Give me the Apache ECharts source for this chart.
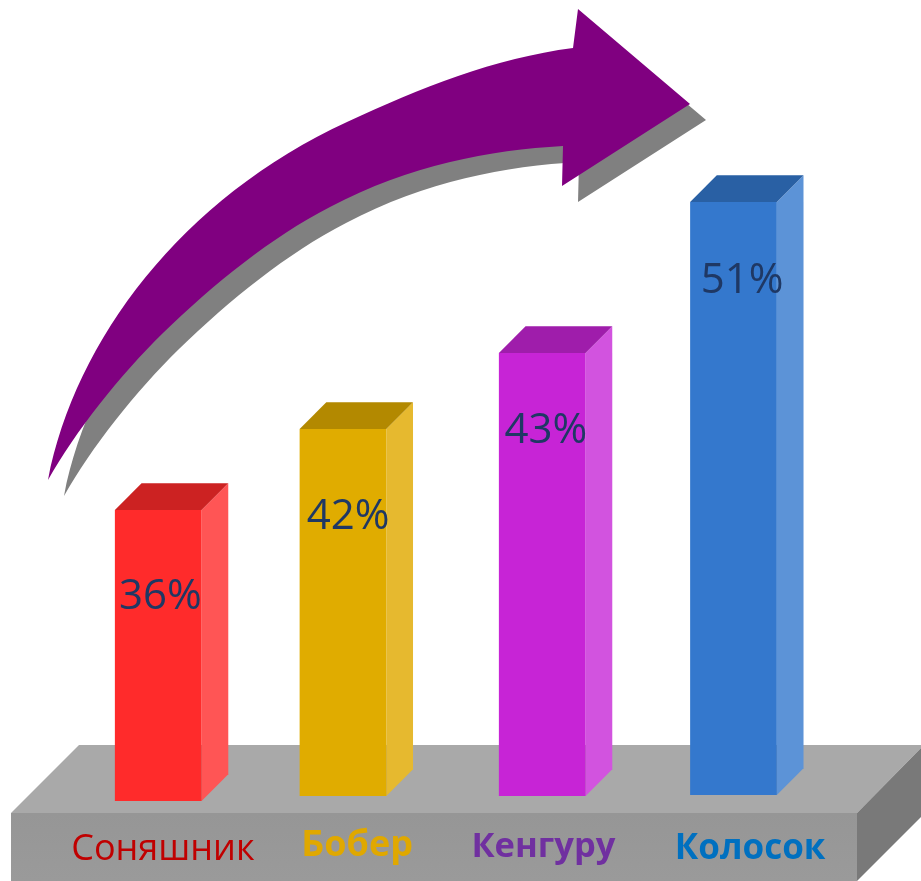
<!DOCTYPE html>
<html>
<head>
<meta charset="utf-8">
<style>
html, body { margin: 0; padding: 0; background: #fff; }
#main { width: 921px; height: 881px; }
</style>
<script src="https://cdn.jsdelivr.net/npm/echarts@6/dist/echarts.min.js"></script>
</head>
<body>
<div id="main"></div>
<script>
var categories = ['Соняшник', 'Бобер', 'Кенгуру', 'Колосок'];
var percentLabels = ['36%', '42%', '43%', '51%'];
// drawn bar heights (they do not follow the printed percents)
var barHeights = [286, 367, 443, 594];

// colours per bar: front, side, top, name
var frontColors = ['#ff2b2b', '#e0ac00', '#c724d6', '#3478cd'];
var sideColors = ['#ff5555', '#e6b92f', '#d253df', '#5c93d7'];
var topColors = ['#cc2222', '#b38900', '#9f1dab', '#2960a4'];
var nameColors = ['#c00000', '#e0a800', '#7030a0', '#0070c0'];
var nameBold = [false, true, true, true];
var nameSize = [36, 36, 34.5, 35];

// small hand placement, the original bars are not evenly spaced
var barNudgeX = [0, -7, 0.5, 0];
var barNudgeY = [5, 0, 0, -1];
var percentX = [2, -2, 4, 8.5];
var percentY = [87, 88, 78, 79];
var nameX = [4.5, 7, 1.5, 16.5];
var nameY = [53.5, 50, 51, 53.5];
var depth = 26.7;
var barWidth = 86.7;

var myChart = echarts.init(document.getElementById('main'));

var arrowPath = 'M48,480 C75,340 182,198 347,122 C420,88 495,58 573,48 ' +
    'L578,9 L690,104 L562,186 L563,146 ' +
    'C490,150 410,165 330,207 C270,238 215,283 163,333 C120,375 75,432 48,480 Z';

function renderArrow() {
    var box = {pathData: arrowPath, layout: 'cover', x: 48, y: 9, width: 642, height: 471};
    return {
        type: 'group',
        children: [
            {type: 'path', x: 16, y: 16, shape: box, style: {fill: '#808080'}},
            {type: 'path', shape: box, style: {fill: '#800080'}}
        ]
    };
}

function renderBar(params, api) {
    var i = api.value(0);
    var p = api.coord([i, api.value(1)]);
    var base = api.coord([i, 0]);
    var x0 = p[0] - 87 / 2 + barNudgeX[i];
    var x1 = x0 + barWidth;
    var yTop = p[1];
    var yBot = base[1] + barNudgeY[i];
    return {
        type: 'group',
        children: [
            {
                type: 'polygon',
                shape: {points: [[x1, yTop], [x1 + depth, yTop - depth], [x1 + depth, yBot - depth], [x1, yBot]]},
                style: {fill: sideColors[i]}
            },
            {
                type: 'polygon',
                shape: {points: [[x0, yTop], [x0 + depth, yTop - depth], [x1 + depth, yTop - depth], [x1, yTop]]},
                style: {fill: topColors[i]}
            },
            {
                type: 'rect',
                shape: {x: x0, y: yTop, width: barWidth, height: yBot - yTop},
                style: {fill: frontColors[i]}
            },
            {
                type: 'text',
                style: {
                    text: percentLabels[i],
                    x: p[0] + percentX[i],
                    y: yTop + percentY[i],
                    align: 'center',
                    verticalAlign: 'middle',
                    fill: '#1f3864',
                    font: '42px "Open Sans", sans-serif'
                }
            },
            {
                type: 'text',
                style: {
                    text: categories[i],
                    x: p[0] + nameX[i],
                    y: base[1] + nameY[i],
                    align: 'center',
                    verticalAlign: 'middle',
                    fill: nameColors[i],
                    font: (nameBold[i] ? 'bold ' : '') + nameSize[i] + 'px "Open Sans", sans-serif'
                }
            }
        ]
    };
}

var option = {
    animation: false,
    backgroundColor: '#fff',
    grid: {left: 62.5, width: 767, top: 0, height: 796},
    xAxis: {type: 'category', data: categories, show: false},
    yAxis: {type: 'value', min: 0, max: 796, show: false},
    graphic: [
        {type: 'polygon', z: 1, shape: {points: [[79, 745], [921, 745], [921, 748], [857, 813], [11, 813]]}, style: {fill: '#a9a9a9'}},
        {
            type: 'rect', z: 1, shape: {x: 11, y: 813, width: 846, height: 68},
            style: {fill: new echarts.graphic.LinearGradient(0, 0, 0, 1, [{offset: 0, color: '#969696'}, {offset: 1, color: '#9a9a9a'}])}
        },
        {type: 'polygon', z: 1, shape: {points: [[857, 813], [921, 748], [921, 817], [857, 881]]}, style: {fill: '#797979'}}
    ],
    series: [
        {
            type: 'custom',
            z: 3,
            silent: true,
            renderItem: renderArrow,
            data: [[0, 0]]
        },
        {
            type: 'custom',
            z: 5,
            renderItem: renderBar,
            data: barHeights.map(function (h, i) { return [i, h]; }),
            encode: {x: 0, y: 1}
        }
    ]
};

myChart.setOption(option);
window.addEventListener('resize', function () {
    myChart.resize();
});
</script>
</body>
</html>
